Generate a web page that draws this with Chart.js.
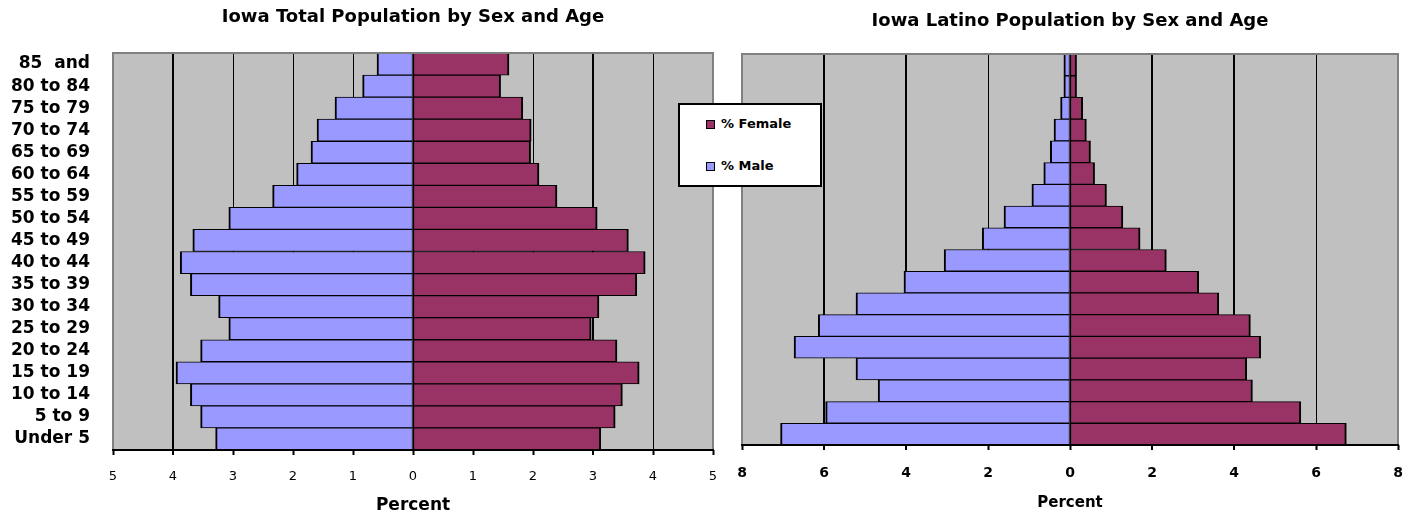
<!DOCTYPE html>
<html>
<head>
<meta charset="utf-8">
<script src="https://cdn.jsdelivr.net/npm/chart.js@4.4.1/dist/chart.umd.min.js"></script>
<style>
html, body { margin:0; padding:0; background:#fff; width:1413px; height:516px; overflow:hidden; }
#c1 { position:absolute; left:0; top:0; }
#c2 { position:absolute; left:730px; top:0; }
#legend { position:absolute; left:678px; top:103px; width:140px; height:80px; border:2px solid #000; background:#fff;
  font-family:'DejaVu Sans', sans-serif; font-weight:bold; font-size:13px; color:#000; }
#legend .mk { position:absolute; left:26px; width:9px; height:9px; border:1.5px solid #000; box-sizing:border-box; }
#legend .tx { position:absolute; left:41px; line-height:16px; white-space:nowrap; }
</style>
</head>
<body>
<canvas id="c1" width="730" height="516"></canvas>
<canvas id="c2" width="683" height="516"></canvas>
<div id="legend"></div>
<script>
// ---- Data (top row first) ----
const ageGroups = ["85  and","80 to 84","75 to 79","70 to 74","65 to 69","60 to 64","55 to 59","50 to 54","45 to 49",
                   "40 to 44","35 to 39","30 to 34","25 to 29","20 to 24","15 to 19","10 to 14","5 to 9","Under 5"];
const totalMale   = [0.60,0.84,1.30,1.60,1.70,1.94,2.34,3.07,3.67,3.88,3.71,3.24,3.07,3.54,3.95,3.71,3.54,3.29];
const totalFemale = [1.60,1.46,1.83,1.97,1.96,2.10,2.40,3.07,3.59,3.87,3.73,3.10,2.97,3.40,3.77,3.49,3.37,3.13];
const latinoMale   = [0.15,0.15,0.23,0.39,0.48,0.64,0.93,1.61,2.14,3.07,4.05,5.22,6.14,6.73,5.22,4.68,5.96,7.06];
const latinoFemale = [0.16,0.16,0.31,0.40,0.50,0.60,0.89,1.29,1.71,2.35,3.14,3.63,4.40,4.65,4.31,4.45,5.63,6.74];
const seriesFemale = "% Female";
const seriesMale = "% Male";
const titleTotal = "Iowa Total Population by Sex and Age";
const titleLatino = "Iowa Latino Population by Sex and Age";
const axisTitle = "Percent";

const FEMALE = '#993366', MALE = '#9999FF', PLOT_BG = '#C0C0C0', FRAME = '#808080';

const plotFrame = {
  id: 'plotFrame',
  beforeDraw(chart) {
    const {ctx, chartArea: a} = chart;
    ctx.save();
    ctx.fillStyle = PLOT_BG;
    ctx.fillRect(a.left, a.top, a.right - a.left, a.bottom - a.top);
    ctx.restore();
  },
  afterDatasetsDraw(chart) {
    const {ctx, chartArea: a} = chart;
    ctx.save();
    ctx.lineWidth = 2;
    ctx.strokeStyle = FRAME;
    ctx.beginPath();
    ctx.moveTo(a.left, a.bottom); ctx.lineTo(a.left, a.top); ctx.lineTo(a.right, a.top); ctx.lineTo(a.right, a.bottom);
    ctx.stroke();
    ctx.strokeStyle = '#000';
    ctx.beginPath();
    ctx.moveTo(a.left - 1, a.bottom); ctx.lineTo(a.right + 1, a.bottom);
    ctx.stroke();
    ctx.restore();
  }
};

function makeDatasets(male, female) {
  return [
    { label: seriesMale, data: male.map(v => -v), backgroundColor: MALE, borderColor: '#000',
      borderWidth: {left: 2, right: 1, top: 1, bottom: 1}, borderSkipped: false },
    { label: seriesFemale, data: female, backgroundColor: FEMALE, borderColor: '#000',
      borderWidth: {left: 1, right: 2, top: 1, bottom: 1}, borderSkipped: false }
  ];
}

function makeChart(id, cfg) {
  return new Chart(document.getElementById(id), {
    type: 'bar',
    data: { labels: ageGroups, datasets: makeDatasets(cfg.male, cfg.female) },
    options: {
      indexAxis: 'y',
      responsive: false,
      animation: false,
      devicePixelRatio: 1,
      datasets: { bar: { categoryPercentage: 1.0, barPercentage: 1.0 } },
      layout: { padding: cfg.padding, autoPadding: false },
      plugins: {
        legend: { display: false },
        tooltip: { enabled: false },
        title: { display: true, text: cfg.title, fullSize: false, color: '#000',
          font: { family: 'DejaVu Sans', weight: 'bold', size: 18 }, padding: cfg.titlePad }
      },
      scales: {
        x: {
          stacked: true, min: -cfg.max, max: cfg.max,
          grid: { color: '#000', lineWidth: ctx => (cfg.thick.includes(ctx.tick && ctx.tick.value) ? 2 : 1),
                  tickLength: 5, tickWidth: 2, tickColor: '#000' },
          border: { display: false },
          ticks: { stepSize: cfg.step, color: '#000', padding: cfg.tickPad, font: cfg.tickFont,
                   callback: v => Math.abs(v) },
          title: { display: true, text: axisTitle, color: '#000',
                   font: { family: 'DejaVu Sans', weight: 'bold', size: cfg.axisTitleSize },
                   padding: { top: 0, bottom: cfg.axisTitlePadBottom } },
          afterFit: s => { s.height = cfg.xHeight; s.paddingLeft = 0; s.paddingRight = 0; }
        },
        y: cfg.showLabels ? {
          stacked: true,
          grid: { display: false, drawTicks: false },
          border: { display: false },
          ticks: { color: '#000', autoSkip: false, padding: 23,
                   font: { family: 'DejaVu Sans', weight: 'bold', size: 17 } },
          afterFit: s => { s.width = 113; }
        } : { stacked: true, display: false }
      }
    },
    plugins: [plotFrame]
  });
}

makeChart('c1', {
  male: totalMale, female: totalFemale, title: titleTotal, max: 5, step: 1,
  padding: { left: 0, right: 17, top: 0, bottom: 0 },
  titlePad: { top: 7, bottom: 24.4 },
  tickPad: 14, tickFont: { family: 'DejaVu Sans', size: 13 },
  axisTitleSize: 17, axisTitlePadBottom: 0, xHeight: 66, showLabels: true, thick: [-4, 3]
});

makeChart('c2', {
  male: latinoMale, female: latinoFemale, title: titleLatino, max: 8, step: 2,
  padding: { left: 12, right: 15, top: 0, bottom: 0 },
  titlePad: { top: 11, bottom: 21.4 },
  tickPad: 15, tickFont: { family: 'DejaVu Sans', size: 14, weight: 'bold' },
  axisTitleSize: 15, axisTitlePadBottom: 4, xHeight: 71, showLabels: false, thick: [-6, -4, 2, 4]
});

// Legend (HTML, real text)
const legend = document.getElementById('legend');
[[seriesFemale, FEMALE, 15, 11], [seriesMale, MALE, 57, 53]].forEach(([label, color, mkTop, txTop]) => {
  const mk = document.createElement('div');
  mk.className = 'mk'; mk.style.background = color; mk.style.top = mkTop + 'px';
  const tx = document.createElement('div');
  tx.className = 'tx'; tx.style.top = txTop + 'px'; tx.textContent = label;
  legend.appendChild(mk); legend.appendChild(tx);
});
</script>
</body>
</html>
